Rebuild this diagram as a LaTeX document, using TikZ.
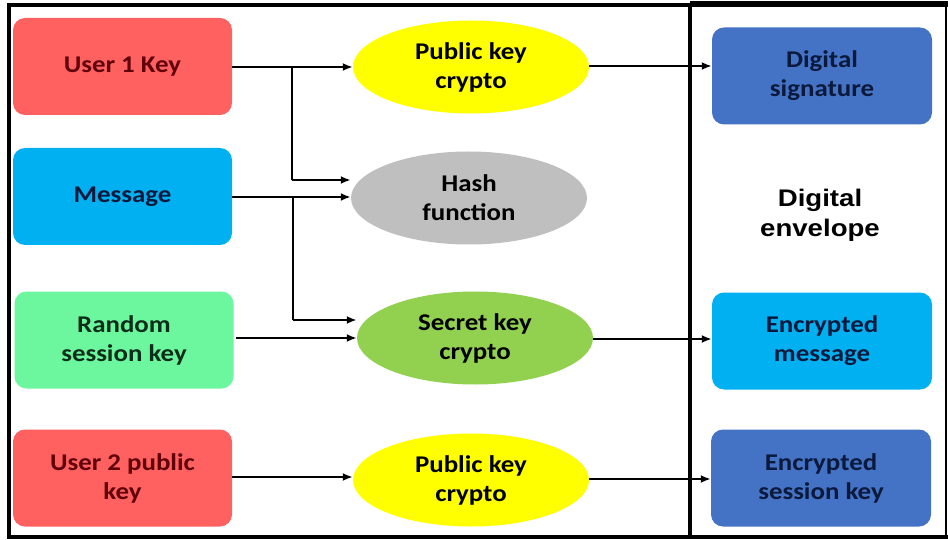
\documentclass[tikz,border=0pt]{standalone}
\usepackage{fontspec}
\setmainfont{Carlito}
\newfontfamily\boxfont[FakeStretch=1.12]{Carlito}
\newfontfamily\envfont[FakeStretch=1.15]{Liberation Sans}
\usetikzlibrary{shapes.geometric,arrows.meta}
\definecolor{redbox}{RGB}{255,97,97}
\definecolor{redtxt}{RGB}{95,0,10}
\definecolor{cyanbox}{RGB}{0,176,240}
\definecolor{navytxt}{RGB}{10,25,60}
\definecolor{greenbox}{RGB}{108,247,158}
\definecolor{greentxt}{RGB}{12,45,25}
\definecolor{yell}{RGB}{255,255,0}
\definecolor{grayell}{RGB}{191,191,191}
\definecolor{greenell}{RGB}{146,208,80}
\definecolor{bluebox}{RGB}{68,114,196}
\tikzset{
  boxtext/.style={align=center, font=\boxfont\bfseries\fontsize{24}{29}\selectfont, inner sep=0pt},
  inbox/.style={boxtext, rounded corners=12pt, minimum width=219pt, minimum height=97pt},
  outbox/.style={boxtext, rounded corners=12pt, minimum width=220pt, minimum height=97pt},
  ell/.style={boxtext, ellipse, minimum width=236pt, minimum height=93pt},
  arr/.style={line width=2.2pt, -{Latex[length=10pt,width=8pt]}},
  ln/.style={line width=2.2pt}
}
\begin{document}
\begin{tikzpicture}[x=1pt,y=-1pt]
\useasboundingbox (0,0) rectangle (948,540);
\fill[white] (0,0) rectangle (948,540);
% frame
\draw[line width=4pt] (9,5) rectangle (690,537);
\draw[line width=6pt] (690,4) -- (948,4);
\draw[line width=4pt] (690,537) -- (948,537);
\draw[line width=2pt] (946,4) -- (946,537);
\draw[line width=3pt] (690,4) -- (690,537);
% left boxes
\node[inbox, fill=redbox, text=redtxt] (u1) at (122.5,66.5) {User 1 Key};
\node[inbox, fill=cyanbox, text=navytxt] (msg) at (122.5,196.5) {Message};
\node[inbox, fill=greenbox, text=greentxt] (rsk) at (124,340) {Random\\session key};
\node[inbox, fill=redbox, text=redtxt] (u2) at (122.5,478) {User 2 public\\key};
% ellipses
\node[ell, fill=yell] (pk1) at (471,67) {Public key\\crypto};
\node[ell, fill=grayell] (hash) at (469,198) {Hash\\function};
\node[ell, fill=greenell] (sk) at (475,338) {Secret key\\crypto};
\node[ell, fill=yell] (pk2) at (471,480) {Public key\\crypto};
% right boxes
\node[outbox, fill=bluebox, text=navytxt] (ds) at (822,76) {Digital\\signature};
\node[outbox, fill=cyanbox, text=navytxt] (em) at (822,341) {Encrypted\\message};
\node[outbox, fill=bluebox, text=navytxt] (esk) at (821,478) {Encrypted\\session key};
\node[align=center, font=\envfont\bfseries\fontsize{24}{30}\selectfont] (env) at (820,215) {Digital\\envelope};
% connectors
\coordinate (b1) at (292,67);
\coordinate (b2) at (293,197);
\draw[arr] (u1.east |- b1) -- (pk1.west |- b1);
\draw[ln] (b1) -- (292,180);
\draw[arr] (292,180) -- (hash.west |- 0,180);
\draw[arr] (msg.east |- b2) -- (hash.west |- b2);
\draw[ln] (b2) -- (293,320);
\draw[arr] (293,320) -- (sk.west |- 0,320);
\draw[arr] (236,338) -- (sk.west |- 0,338);
\draw[arr] (u2.east |- 0,477) -- (pk2.west |- 0,477);
\draw[arr] (pk1.east |- 0,66) -- (ds.west |- 0,66);
\draw[arr] (sk.east |- 0,339) -- (em.west |- 0,339);
\draw[arr] (pk2.east |- 0,479) -- (esk.west |- 0,479);
\end{tikzpicture}
\end{document}
